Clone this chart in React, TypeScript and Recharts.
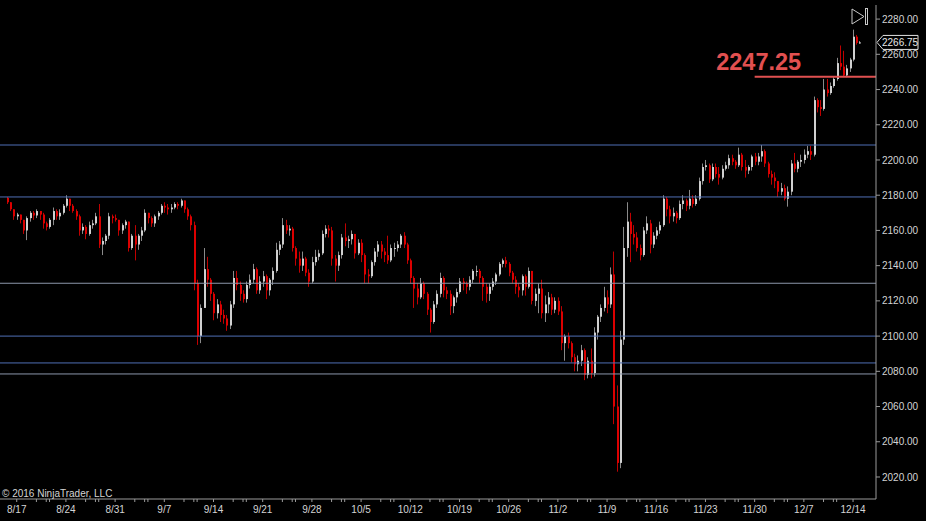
import { ComposedChart, Bar, XAxis, YAxis, ReferenceLine } from "recharts";

// closes per bar (about 3 bars per trading day), open = previous close
const firstOpen = 2178.5;
const closes = [
  2176, 2172, 2168, 2169, 2166, 2160, 2167, 2170, 2168.5, 2171,
  2169, 2164, 2162, 2166, 2171, 2168, 2170, 2174, 2178, 2174,
  2171, 2168, 2160, 2162, 2158, 2163, 2164, 2168, 2152, 2154,
  2157, 2168, 2167, 2166, 2160, 2163, 2165, 2150, 2157, 2152,
  2157, 2160, 2170, 2167, 2164, 2168, 2170, 2174, 2173, 2172,
  2173, 2175, 2174, 2177, 2172, 2168, 2163, 2130, 2100, 2116,
  2138, 2132, 2124, 2113, 2118, 2112, 2110, 2106, 2118, 2133,
  2129, 2124, 2121, 2129, 2132, 2138, 2126, 2131, 2134, 2126,
  2132, 2137, 2149, 2152, 2163, 2160, 2161, 2150, 2144, 2140,
  2144, 2136, 2131, 2142, 2145, 2147, 2158, 2161, 2160, 2144,
  2140, 2146, 2156, 2154, 2155, 2158, 2147, 2153, 2146, 2135,
  2134, 2142, 2148, 2152, 2148, 2146, 2143, 2150, 2150, 2152,
  2157, 2152, 2143, 2133, 2127, 2122, 2130, 2124, 2115, 2108,
  2118, 2124, 2133, 2126, 2124, 2117, 2122, 2125, 2131, 2130,
  2128, 2132, 2137, 2137, 2133, 2128, 2124, 2128, 2131, 2135,
  2141, 2143, 2141, 2136, 2132, 2128, 2126, 2134, 2128, 2137,
  2120, 2124, 2127, 2113, 2118, 2122, 2115, 2120, 2114, 2096,
  2100, 2096, 2088, 2084, 2086, 2092, 2078, 2086, 2079, 2102,
  2111, 2116, 2122, 2118, 2135, 2060, 2028, 2098, 2150, 2165,
  2158, 2156, 2150, 2146, 2160, 2164, 2152, 2157, 2160, 2163,
  2178, 2172, 2168, 2170, 2167, 2175, 2177, 2174, 2178, 2175,
  2178, 2188, 2196, 2197, 2189, 2196, 2192, 2190, 2195, 2197,
  2201, 2199, 2197, 2203, 2196, 2194, 2196, 2202, 2199, 2202,
  2205, 2198, 2192, 2190, 2188, 2182, 2184, 2178, 2182, 2198,
  2195, 2199, 2200, 2203, 2205, 2203, 2234, 2230, 2229, 2240,
  2238, 2242, 2246, 2255, 2253, 2248, 2252, 2257, 2270, 2266.5, 2266.75,
];

const highs = [
  2179, 2176, 2172, 2170, 2169, 2166, 2168, 2171, 2171, 2172,
  2171, 2170, 2165, 2167, 2173, 2172, 2172, 2175, 2180, 2178,
  2175, 2172, 2169, 2164, 2163, 2165, 2166, 2170, 2175, 2156,
  2158, 2170, 2169, 2169, 2166, 2164, 2166, 2165, 2158, 2163,
  2158, 2162, 2172, 2170, 2168, 2169, 2171, 2175, 2176, 2175,
  2175, 2176, 2176, 2178, 2177, 2173, 2169, 2165, 2132, 2118,
  2150, 2145, 2133, 2125, 2121, 2120, 2115, 2112, 2120, 2137,
  2137, 2131, 2126, 2131, 2135, 2141, 2139, 2134, 2137, 2135,
  2133, 2139, 2153, 2154, 2167, 2166, 2163, 2162, 2151, 2148,
  2148, 2145, 2138, 2145, 2149, 2149, 2160, 2163, 2163, 2162,
  2146, 2148, 2158, 2164, 2157, 2160, 2158, 2155, 2155, 2147,
  2138, 2143, 2150, 2154, 2154, 2150, 2157, 2152, 2153, 2154,
  2158, 2159, 2153, 2144, 2134, 2130, 2133, 2131, 2125, 2116,
  2120, 2126, 2136, 2134, 2128, 2126, 2123, 2127, 2133, 2133,
  2131, 2134, 2138, 2140, 2138, 2134, 2130, 2130, 2133, 2136,
  2142, 2144, 2145, 2142, 2137, 2134, 2130, 2135, 2135, 2139,
  2137, 2127, 2130, 2132, 2123, 2125, 2124, 2122, 2122, 2117,
  2101, 2102, 2097, 2090, 2089, 2095, 2093, 2088, 2093, 2105,
  2112, 2118, 2128, 2126, 2139, 2148, 2072, 2103, 2162, 2176,
  2170, 2163, 2159, 2152, 2162, 2168, 2166, 2159, 2162, 2165,
  2180, 2179, 2174, 2173, 2171, 2177, 2180, 2178, 2183, 2180,
  2180, 2190, 2198, 2200, 2198, 2198, 2198, 2196, 2197, 2199,
  2203, 2203, 2200, 2207, 2204, 2200, 2197, 2203, 2204, 2204,
  2208.5, 2206, 2199, 2194, 2193, 2188, 2187, 2186, 2185, 2200,
  2204, 2200, 2203, 2206, 2208, 2208, 2236, 2235, 2234, 2246,
  2246, 2244, 2247, 2258, 2265, 2262, 2254, 2258, 2274, 2271, 2267.5,
];

const lows = [
  2175, 2171, 2166, 2166, 2164, 2158, 2154.5, 2165, 2166, 2167,
  2166, 2161, 2160, 2161, 2163, 2166, 2166, 2169, 2173, 2171,
  2170, 2166, 2157, 2158, 2155, 2157, 2161, 2163, 2150, 2146,
  2152, 2155, 2164, 2165, 2157, 2158, 2161, 2148, 2149, 2143,
  2149, 2154, 2159, 2164, 2162, 2162, 2166, 2169, 2170, 2169,
  2170, 2172, 2172, 2173, 2170, 2166, 2160, 2126, 2095, 2096,
  2116, 2128, 2120, 2109, 2110, 2108, 2107, 2103, 2104, 2116,
  2126, 2120, 2119, 2119, 2127, 2130, 2124, 2124, 2128, 2121,
  2123, 2129, 2136, 2146, 2150, 2158, 2157, 2148, 2140, 2136,
  2137, 2134, 2128, 2130, 2140, 2143, 2146, 2156, 2156, 2140,
  2131, 2137, 2144, 2151, 2150, 2152, 2144, 2146, 2142, 2130,
  2130, 2133, 2140, 2145, 2144, 2142, 2141, 2142, 2145, 2148,
  2150, 2150, 2141, 2130, 2116, 2118, 2121, 2121, 2112, 2102,
  2107, 2116, 2122, 2122, 2121, 2112, 2113, 2119, 2124, 2126,
  2124, 2126, 2130, 2134, 2130, 2120, 2119, 2120, 2126, 2129,
  2134, 2139, 2139, 2134, 2130, 2124, 2122, 2123, 2123, 2127,
  2118, 2117, 2113, 2110, 2108, 2113, 2112, 2113, 2112, 2092,
  2086, 2093, 2085, 2080, 2080, 2083, 2075, 2076, 2076, 2077,
  2098, 2108, 2114, 2113, 2116, 2050, 2023, 2025, 2095, 2145,
  2142, 2152, 2148, 2143, 2145, 2158, 2147, 2150, 2155, 2158,
  2162, 2168, 2164, 2165, 2164, 2166, 2172, 2171, 2172, 2173,
  2174, 2177, 2186, 2194, 2187, 2188, 2190, 2186, 2189, 2194,
  2195, 2197, 2195, 2196, 2194, 2190, 2192, 2194, 2197, 2197,
  2199, 2196, 2190, 2186, 2184, 2179, 2180, 2177, 2173.5, 2180,
  2193, 2193, 2196, 2198, 2201, 2200, 2202, 2227, 2225, 2228,
  2236, 2237, 2241, 2245, 2251, 2247, 2247, 2250, 2256, 2265.5, 2266,
];

const weekLabels = ["8/17", "8/24", "8/31", "9/7", "9/14", "9/21", "9/28", "10/5", "10/12",
  "10/19", "10/26", "11/2", "11/9", "11/16", "11/23", "11/30", "12/7", "12/14"];
const weekBars = [3, 18, 33, 48, 63, 78, 93, 108, 123, 138, 153, 168, 183, 198, 213, 228, 243, 258];

const yTicks = [2020, 2040, 2060, 2080, 2100, 2120, 2140, 2160, 2180, 2200, 2220, 2240, 2260, 2280];
const blueLevels = [2208.5, 2179, 2100, 2084.75];
const grayLevels = [2130, 2078.5];
const markedLevel = 2247.25;
const lastPrice = 2266.75;

const bars = closes.map((c, i) => {
  const o = i === 0 ? firstOpen : closes[i - 1];
  return {
    i,
    open: o,
    close: c,
    high: Math.max(highs[i], o, c),
    low: Math.min(lows[i], o, c),
  };
});

const minorTicks: number[] = [];
weekBars.forEach((w) => [6, 9, 10].forEach((o) => { if (w + o < 262) minorTicks.push(w + o); }));
const xTicks = [...weekBars, ...minorTicks].sort((a, b) => a - b);

const font = '"Liberation Sans", Arial, sans-serif';
const axisGray = "#9a9a9a";
const textGray = "#d4d4d4";

function Candle(props: any) {
  const { x, y, width, height, payload } = props;
  if (x == null || !payload) return null;
  const top = Math.min(y, y + height);
  const h = Math.abs(height);
  const { open, close, high, low } = payload;
  const ppu = high > low ? h / (high - low) : 0;
  const yOf = (v: number) => top + (high - v) * ppu;
  const cx = Math.round(x + width / 2);
  const up = close >= open;
  const yo = yOf(open);
  const yc = yOf(close);
  const bt = Math.min(yo, yc);
  const bh = Math.max(1, Math.abs(yc - yo));
  return (
    <g>
      <line x1={cx + 0.5} x2={cx + 0.5} y1={top} y2={top + h} stroke={up ? "#8a8a8a" : "#c00000"} strokeWidth={1} />
      <rect x={cx} y={bt} width={2} height={bh} fill={up ? "#d0d0d0" : "#dc0000"} />
    </g>
  );
}

function DateTick(props: any) {
  const { x, y, payload } = props;
  const k = weekBars.indexOf(payload.value);
  if (k < 0) return null;
  return (
    <text x={x} y={y} dy={9} textAnchor="middle" fill={textGray} fontSize={10} fontFamily={font}>
      {weekLabels[k]}
    </text>
  );
}

function LevelText(props: any) {
  const vb = props.viewBox || {};
  return (
    <text x={vb.x + 4} y={vb.y - 7} textAnchor="middle" fill="#e25050" fontSize={23.5} fontWeight="bold" fontFamily={font}>
      {markedLevel.toFixed(2)}
    </text>
  );
}

function PriceMarker(props: any) {
  const vb = props.viewBox || {};
  const x0 = vb.x + vb.width + 1;
  const y0 = vb.y;
  const pts = `${x0},${y0} ${x0 + 6},${y0 - 7} ${x0 + 41},${y0 - 7} ${x0 + 41},${y0 + 7} ${x0 + 6},${y0 + 7}`;
  return (
    <g>
      <polygon points={pts} fill="#000" stroke="#e0e0e0" strokeWidth={1} />
      <text x={x0 + 5} y={y0 + 4} fill="#e8e8e8" fontSize={10} fontFamily={font}>
        {lastPrice.toFixed(2)}
      </text>
    </g>
  );
}

export default function App() {
  return (
    <div style={{ position: "relative", width: 926, height: 521, background: "#000" }}>
      <style>{"body{margin:0;background:#000}"}</style>
      <ComposedChart width={926} height={521} data={bars} margin={{ top: 5, right: 0, bottom: 0, left: 0 }}>
        <XAxis
          dataKey="i"
          type="number"
          domain={[-2.1, 265]}
          allowDataOverflow
          ticks={xTicks}
          interval={0}
          height={22}
          tick={<DateTick />}
          tickSize={3}
          axisLine={{ stroke: axisGray }}
          tickLine={{ stroke: axisGray }}
        />
        <YAxis
          orientation="right"
          width={50}
          domain={[2007.5, 2288]}
          allowDataOverflow
          ticks={yTicks}
          interval={0}
          tickFormatter={(v: number) => v.toFixed(2)}
          tick={{ fill: textGray, fontSize: 10, fontFamily: font }}
          tickSize={4}
          tickMargin={2}
          axisLine={{ stroke: axisGray }}
          tickLine={{ stroke: axisGray }}
        />
        {blueLevels.map((v) => (
          <ReferenceLine key={"b" + v} y={v} stroke="#4f6fb5" strokeWidth={1} />
        ))}
        {grayLevels.map((v) => (
          <ReferenceLine key={"g" + v} y={v} stroke="#8c96ab" strokeWidth={1} />
        ))}
        <ReferenceLine
          segment={[{ x: 228, y: markedLevel }, { x: 265, y: markedLevel }]}
          stroke="#e05050"
          strokeWidth={2}
          label={<LevelText />}
        />
        <ReferenceLine y={lastPrice} stroke="none" label={<PriceMarker />} />
        <Bar
          dataKey={(d: any) => [d.low, d.high]}
          barSize={3}
          shape={<Candle />}
          isAnimationActive={false}
        />
      </ComposedChart>
      <svg width={926} height={521} style={{ position: "absolute", left: 0, top: 0, pointerEvents: "none" }}>
        <text x={2} y={497} fill={textGray} fontSize={10} fontFamily={font}>
          © 2016 NinjaTrader, LLC
        </text>
        <polygon points="852,9 852,24 864,16.5" fill="none" stroke="#c8c8c8" strokeWidth={1} />
        <rect x={865.5} y={8.5} width={2} height={16} fill="none" stroke="#c8c8c8" strokeWidth={1} />
      </svg>
    </div>
  );
}
